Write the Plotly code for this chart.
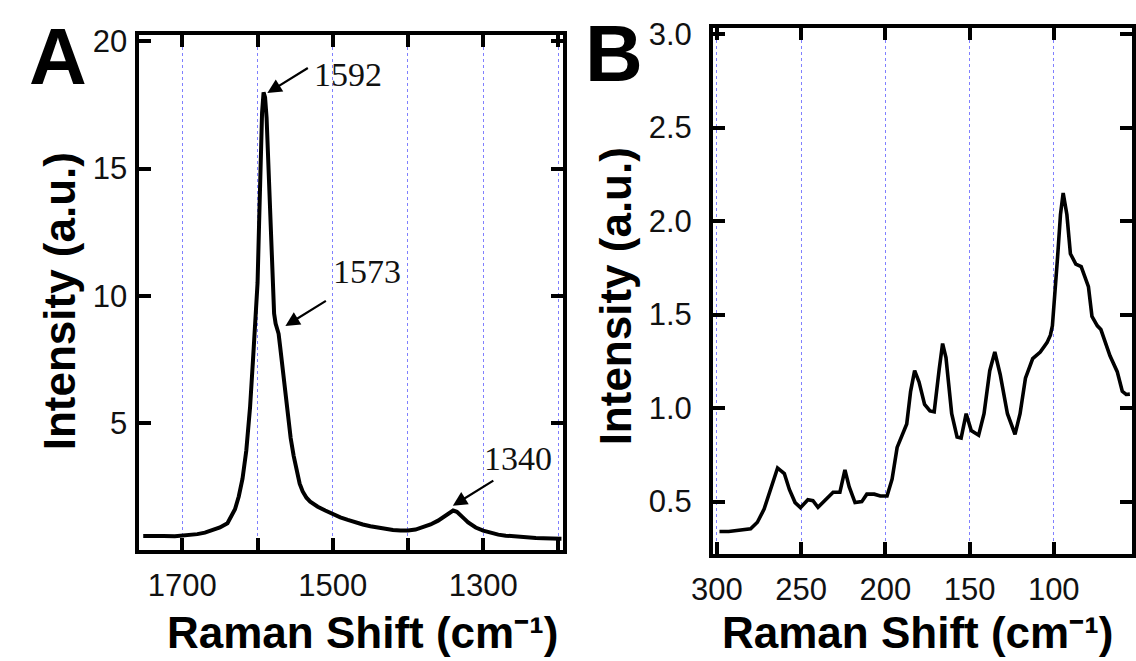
import plotly.graph_objects as go

# ---------------- Panel A data (Raman shift, intensity) ----------------
shift_a = [1752, 1740, 1725, 1710, 1700, 1690, 1680, 1670, 1660, 1650, 1640, 1635,
           1630, 1625, 1620, 1615, 1610, 1606, 1603, 1600, 1598, 1596, 1594, 1592,
           1590, 1588, 1586, 1584, 1582, 1580, 1578, 1576, 1574, 1572, 1570, 1567,
           1564, 1560, 1556, 1552, 1548, 1544, 1540, 1535, 1530, 1520, 1510, 1500,
           1490, 1480, 1470, 1460, 1450, 1440, 1430, 1420, 1410, 1400, 1390, 1380,
           1370, 1360, 1350, 1345, 1340, 1335, 1330, 1325, 1320, 1310, 1300, 1290,
           1280, 1270, 1260, 1250, 1240, 1230, 1220, 1210, 1200, 1196]
intensity_a = [0.55, 0.56, 0.55, 0.54, 0.56, 0.58, 0.62, 0.68, 0.76, 0.88, 1.05, 1.3,
               1.6, 2.1, 2.8, 3.9, 5.6, 7.5, 9.0, 10.5, 12.8, 15.2, 17.2, 18.0,
               17.8, 17.0, 15.5, 13.5, 11.8, 10.3, 9.3, 8.9, 8.7, 8.5, 8.0, 7.2,
               6.3, 5.3, 4.4, 3.7, 3.1, 2.6, 2.3, 2.05, 1.9, 1.7, 1.55, 1.4,
               1.28, 1.18, 1.08, 1.0, 0.93, 0.87, 0.82, 0.78, 0.76, 0.76, 0.8, 0.88,
               1.0, 1.15, 1.35, 1.48, 1.55, 1.5, 1.38, 1.22, 1.08, 0.88, 0.76, 0.66,
               0.6, 0.56, 0.53, 0.5, 0.48, 0.47, 0.46, 0.45, 0.44, 0.44]

# ---------------- Panel B data ----------------
shift_b = [298.5, 293, 280, 276, 272, 267.5, 264, 260, 257, 253.6, 250.4, 246, 243,
           240, 235.4, 231, 227, 224, 221.5, 218, 214, 211, 206.6, 203, 199, 196,
           193, 189.5, 187.3, 185, 182.6, 180, 176.7, 173.5, 171, 168, 166, 164,
           160.6, 157.4, 155, 152, 149, 144.6, 141.4, 138, 135, 131.8, 127.5, 123,
           120, 116.8, 112.5, 108, 104, 102, 100.8, 97.7, 96.0, 94.4, 92.2, 90.1,
           86.9, 83.7, 79.4, 77.3, 74.1, 72, 70.9, 66.6, 62.3, 59.3, 57, 54.8]
intensity_b = [0.34, 0.34, 0.355, 0.39, 0.46, 0.58, 0.68, 0.65, 0.565, 0.495, 0.468,
               0.51, 0.505, 0.47, 0.51, 0.55, 0.55, 0.67, 0.58, 0.495, 0.5, 0.54,
               0.54, 0.53, 0.53, 0.62, 0.79, 0.86, 0.915, 1.09, 1.20, 1.14, 1.02,
               0.985, 0.98, 1.21, 1.345, 1.27, 0.97, 0.845, 0.84, 0.97, 0.88, 0.855,
               0.97, 1.2, 1.30, 1.18, 0.97, 0.86, 0.97, 1.16, 1.265, 1.30, 1.35, 1.39,
               1.44, 1.81, 2.035, 2.15, 2.035, 1.825, 1.77, 1.757, 1.65, 1.49, 1.44,
               1.42, 1.39, 1.28, 1.195, 1.09, 1.073, 1.075]

# tick definitions
xa_ticks = [1700, 1600, 1500, 1400, 1300, 1200]
xa_text = ["1700", "", "1500", "", "1300", ""]
ya_ticks = [5, 10, 15, 20]
xb_ticks = [300, 250, 200, 150, 100]
yb_ticks = [0.5, 1.0, 1.5, 2.0, 2.5, 3.0]

# peak labels (panel A)
peak_labels = ["1592", "1573", "1340"]

W, H = 1136, 661
def px(x):
    return x / W
def py(y):
    return 1 - y / H

fig = go.Figure()
fig.add_trace(go.Scatter(x=shift_a, y=intensity_a, mode="lines",
                         line=dict(color="black", width=4),
                         xaxis="x", yaxis="y", showlegend=False))
fig.add_trace(go.Scatter(x=shift_b, y=intensity_b, mode="lines",
                         line=dict(color="black", width=3.6),
                         xaxis="x2", yaxis="y2", showlegend=False))

tickfont = dict(family="Liberation Sans, Arial", size=31, color="#111")
grid = dict(showgrid=True, gridcolor="#8080ff", gridwidth=1, griddash="dot")
frame = dict(showline=True, linecolor="black", linewidth=4, mirror="ticks",
             ticks="inside", ticklen=12, tickwidth=4, tickcolor="black",
             tickfont=tickfont, zeroline=False)

fig.update_layout(
    width=W, height=H,
    margin=dict(l=0, r=0, t=0, b=0),
    paper_bgcolor="white", plot_bgcolor="white",
    xaxis=dict(domain=[px(120), px(553)], range=[1757, 1193.5],
               tickmode="array", tickvals=xa_ticks, ticktext=xa_text,
               anchor="y", ticklabelstandoff=5, **grid, **frame),
    yaxis=dict(domain=[py(548), py(24)], range=[0, 20.27],
               tickmode="array", tickvals=ya_ticks, anchor="x",
               showgrid=False, ticklabelstandoff=2, **frame),
    xaxis2=dict(domain=[px(706), px(1134)], range=[302.3, 53.5],
                tickmode="array", tickvals=xb_ticks, anchor="y2",
                ticklabelstandoff=5, **grid, **frame),
    yaxis2=dict(domain=[py(552), py(17)], range=[0.221, 3.034],
                tickmode="array", tickvals=yb_ticks, tickformat=".1f",
                anchor="x2", showgrid=False, ticklabelstandoff=11, **frame),
)

title_font = dict(family="Liberation Sans, Arial", size=44, color="black")
x_title = "<b>Raman Shift (cm\u207b\u00b9)</b>"
y_title = "<b>Intensity (a.u.)</b>"
annos = []
annos.append(dict(text=x_title, x=px(348), y=py(632),
                  xref="paper", yref="paper", showarrow=False, font=title_font,
                  xanchor="center", yanchor="middle"))
annos.append(dict(text=x_title, x=px(915), y=py(632),
                  xref="paper", yref="paper", showarrow=False, font=title_font,
                  xanchor="center", yanchor="middle"))
annos.append(dict(text=y_title, x=px(38), y=py(295),
                  xref="paper", yref="paper", showarrow=False, font=title_font,
                  textangle=-90, xanchor="center", yanchor="middle"))
annos.append(dict(text=y_title, x=px(606), y=py(290),
                  xref="paper", yref="paper", showarrow=False, font=title_font,
                  textangle=-90, xanchor="center", yanchor="middle"))
letter_font = dict(family="Liberation Sans, Arial", size=80, color="black")
annos.append(dict(text="<b>A</b>", x=px(37), y=py(46), xref="paper", yref="paper",
                  showarrow=False, font=letter_font, xanchor="center", yanchor="middle"))
annos.append(dict(text="<b>B</b>", x=px(605), y=py(43), xref="paper", yref="paper",
                  showarrow=False, font=letter_font, xanchor="center", yanchor="middle"))

serif = dict(family="Liberation Serif, Times New Roman", size=34, color="#111")
arrow_tips = [(1587, 17.97), (1563, 8.81), (1340.4, 1.74)]
label_pos = [(333, 65), (352, 265), (507, 455)]
for (tx, ty), (lx, ly), lab in zip(arrow_tips, label_pos, peak_labels):
    annos.append(dict(x=tx, y=ty, xref="x", yref="y", text="", showarrow=True,
                      ax=42, ay=-26, arrowhead=2, arrowsize=1.3, arrowwidth=2.2,
                      arrowcolor="black", standoff=0))
    annos.append(dict(text=lab, x=px(lx), y=py(ly), xref="paper", yref="paper",
                      showarrow=False, font=serif, xanchor="center", yanchor="middle"))

fig.update_layout(annotations=annos)
fig.write_html("out.html", config={"displayModeBar": False},
               post_script="document.body.style.margin='0px';document.body.style.overflow='hidden';")
